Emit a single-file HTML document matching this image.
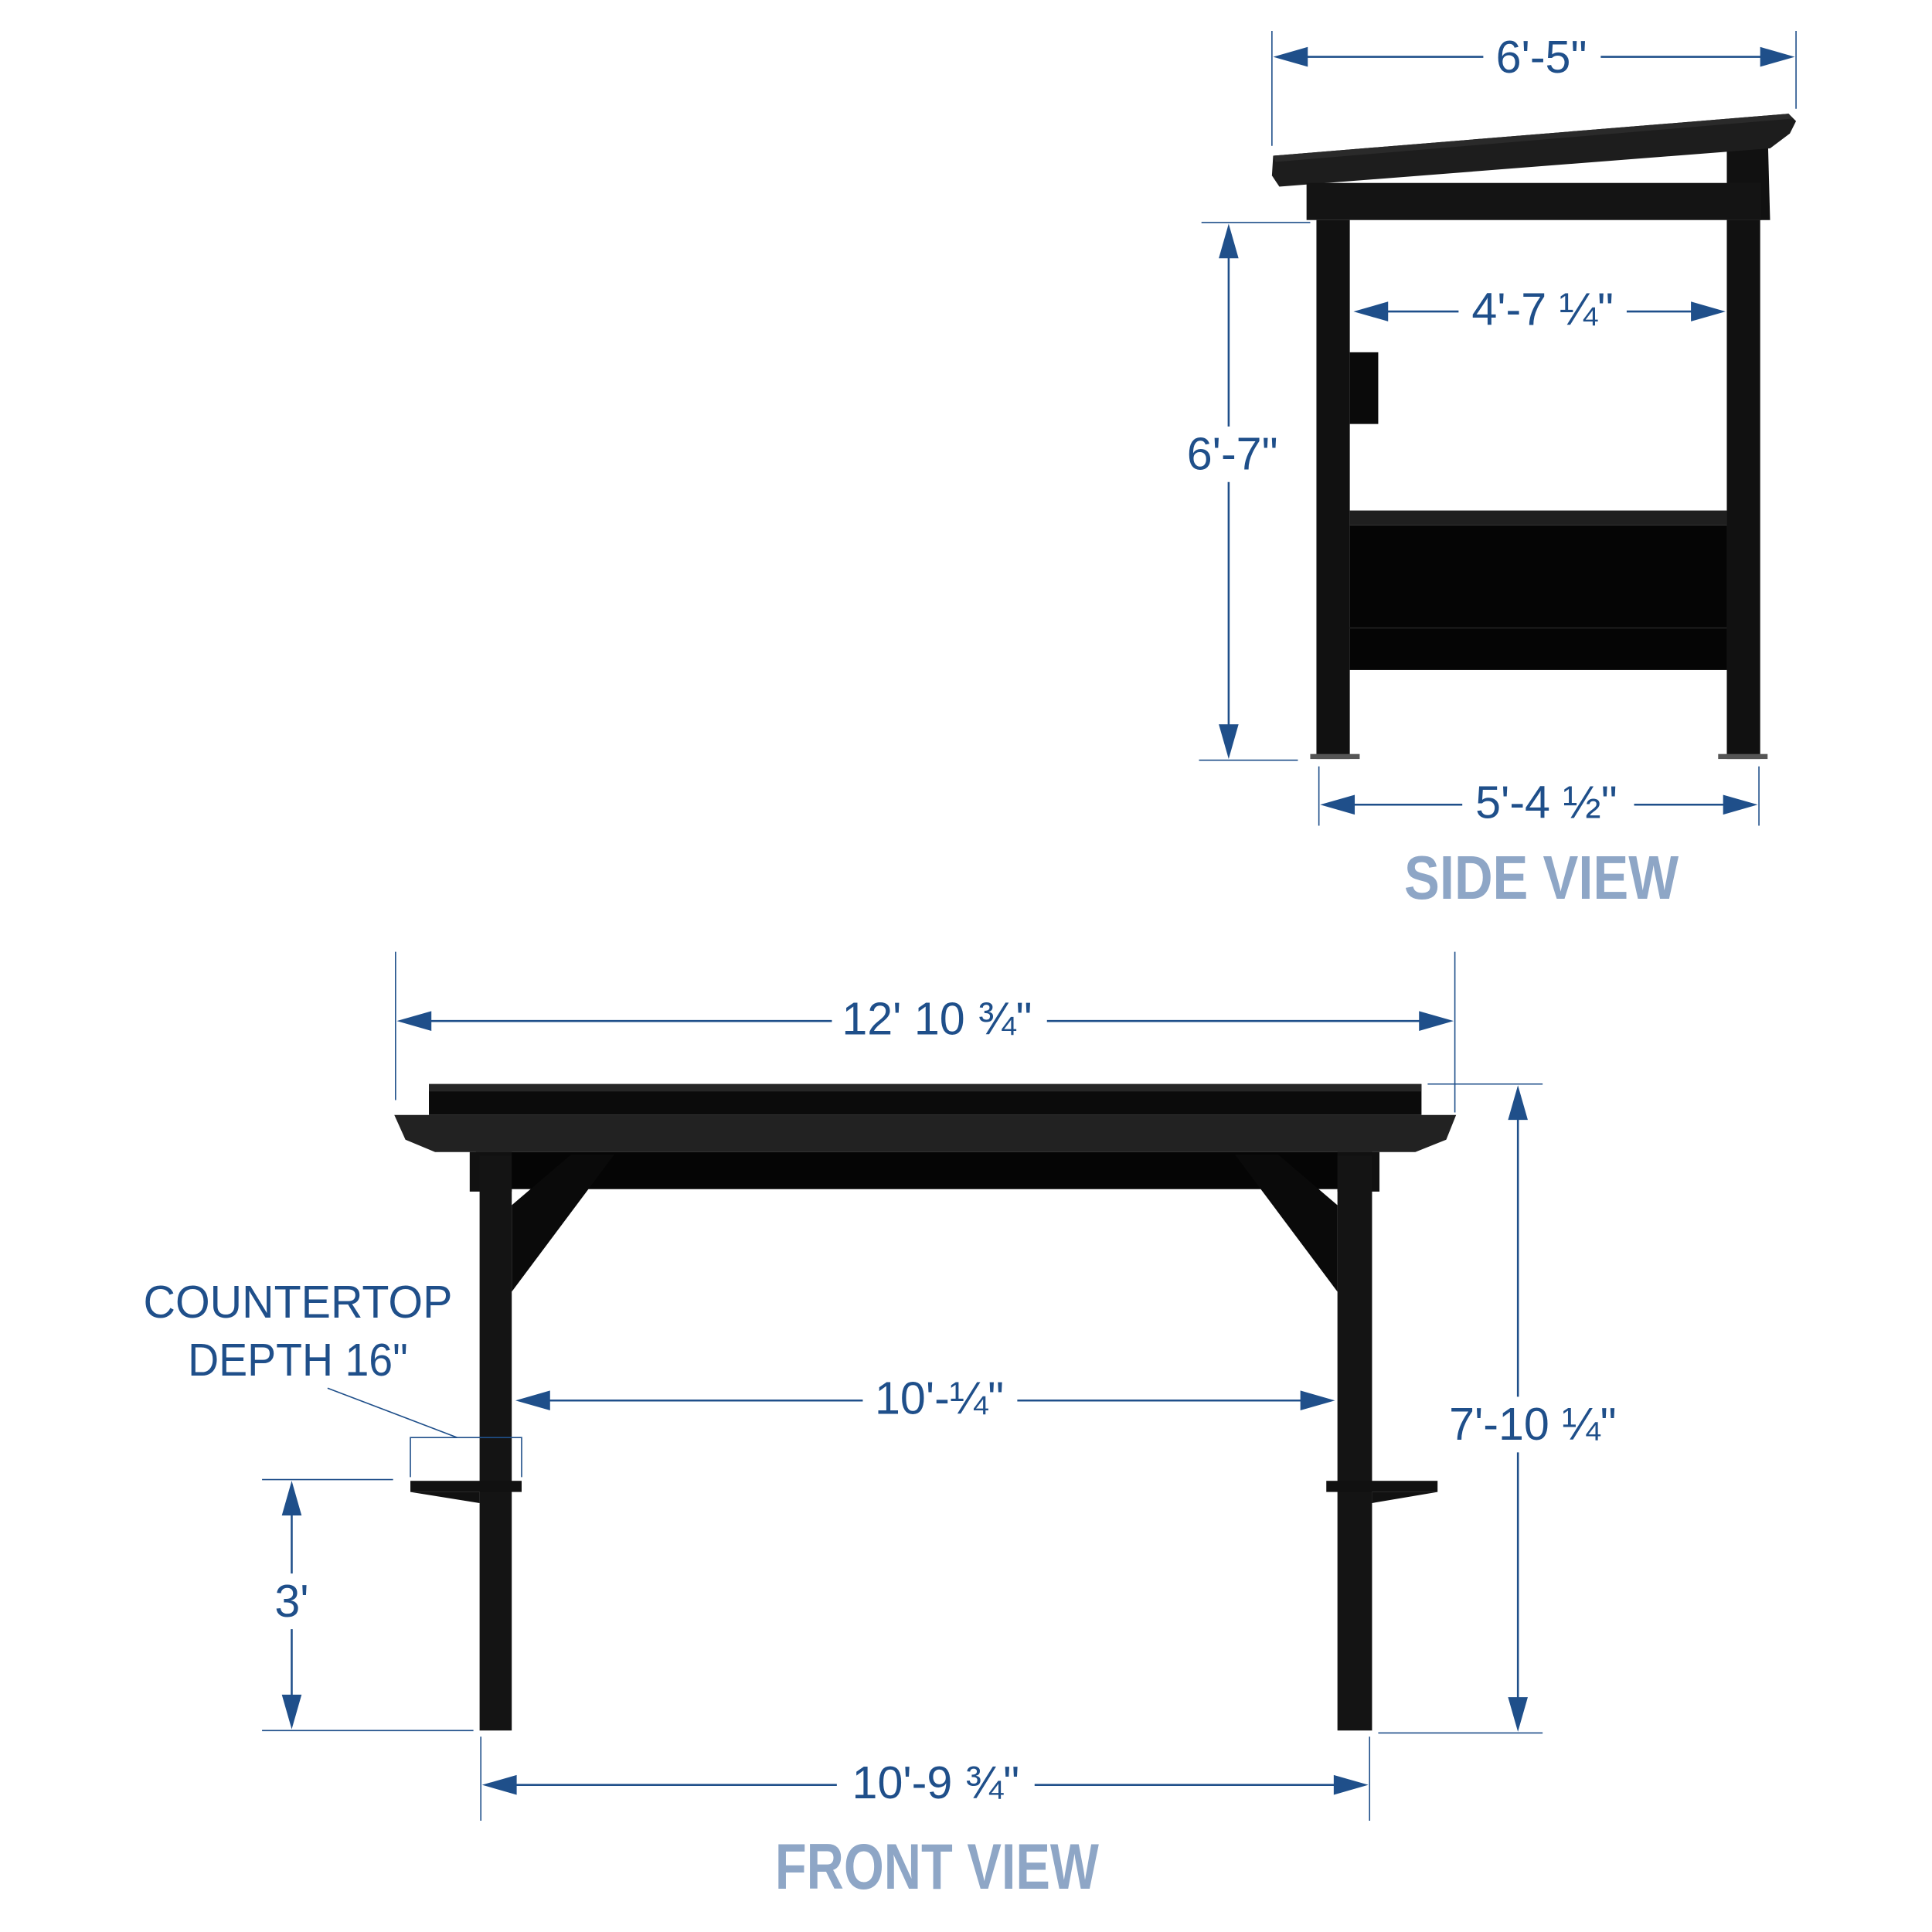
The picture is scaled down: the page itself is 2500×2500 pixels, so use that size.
<!DOCTYPE html>
<html><head><meta charset="utf-8"><style>
html,body{margin:0;padding:0;background:#fff}
svg{display:block}
.d{font-family:"Liberation Sans Narrow","Liberation Sans",sans-serif;fill:#1f4f8a;font-size:37px;text-anchor:middle;dominant-baseline:central}
.t{font-family:"Liberation Sans Narrow","Liberation Sans",sans-serif;fill:#8ea6c6;font-weight:bold;text-anchor:middle}
.l{stroke:#1f4f8a;stroke-width:1.6;fill:none}
.e{stroke:#1f4f8a;stroke-width:1;fill:none}
.a{fill:#1f4f8a}
</style></head><body>
<svg width="2500" height="2500" viewBox="0 0 1563 1563" xmlns="http://www.w3.org/2000/svg">
<polygon points="1397,108 1430,104 1432,178 1397,178" fill="#111"/>
<polygon points="1030,126 1447,92 1453,98 1448,108 1432,120 1035,151 1029,142" fill="#1d1d1d"/>
<polygon points="1030,126 1447,92 1450,96 1032,131" fill="#2a2a2a"/>
<rect x="1057" y="148" width="368" height="30" fill="#141414"/>
<rect x="1065" y="178" width="27" height="436" fill="#111"/>
<rect x="1397" y="178" width="27" height="436" fill="#111"/>
<rect x="1092" y="413" width="305" height="12" fill="#1f1f1f"/>
<rect x="1092" y="425" width="305" height="117" fill="#050505"/>
<line x1="1092" y1="508" x2="1397" y2="508" stroke="#222" stroke-width="1"/>
<rect x="1092" y="285" width="23" height="58" fill="#0a0a0a"/>
<rect x="1060" y="610" width="40" height="4" fill="#555"/>
<rect x="1390" y="610" width="40" height="4" fill="#555"/>
<line class="e" x1="1029" y1="25" x2="1029" y2="118"/>
<line class="e" x1="1453" y1="25" x2="1453" y2="88"/>
<line class="l" x1="1050" y1="46" x2="1200" y2="46"/><line class="l" x1="1295" y1="46" x2="1432" y2="46"/>
<polygon class="a" points="1030,46 1058,38 1058,54"/><polygon class="a" points="1452,46 1424,38 1424,54"/>
<text class="d" x="1247" y="46">6'-5"</text>
<line class="l" x1="1115" y1="252" x2="1180" y2="252"/><line class="l" x1="1316" y1="252" x2="1375" y2="252"/>
<polygon class="a" points="1095,252 1123,244 1123,260"/><polygon class="a" points="1396,252 1368,244 1368,260"/>
<text class="d" x="1248" y="250">4'-7 ¼"</text>
<line class="e" x1="972" y1="180" x2="1060" y2="180"/>
<line class="e" x1="970" y1="615" x2="1050" y2="615"/>
<line class="l" x1="994" y1="200" x2="994" y2="345"/><line class="l" x1="994" y1="390" x2="994" y2="595"/>
<polygon class="a" points="994,181 986,209 1002,209"/><polygon class="a" points="994,614 986,586 1002,586"/>
<text class="d" x="997" y="367">6'-7"</text>
<line class="e" x1="1067" y1="620" x2="1067" y2="668"/>
<line class="e" x1="1423" y1="620" x2="1423" y2="668"/>
<line class="l" x1="1087" y1="651" x2="1183" y2="651"/><line class="l" x1="1322" y1="651" x2="1403" y2="651"/>
<polygon class="a" points="1068,651 1096,643 1096,659"/><polygon class="a" points="1422,651 1394,643 1394,659"/>
<text class="d" x="1251" y="649">5'-4 ½"</text>
<text class="t" x="1247" y="727" font-size="50" textLength="222" lengthAdjust="spacingAndGlyphs">SIDE VIEW</text>

<rect x="347" y="877" width="803" height="25" fill="#0b0b0b"/>
<rect x="347" y="877" width="803" height="6" fill="#262626"/>
<polygon points="319,902 1178,902 1170,922 1145,932 352,932 328,922" fill="#222"/>
<rect x="385" y="932" width="725" height="30" fill="#050505"/>
<rect x="380" y="932" width="34" height="32" fill="#111"/>
<rect x="1082" y="932" width="34" height="32" fill="#111"/>
<rect x="388" y="935" width="26" height="465" fill="#141414"/>
<rect x="1082" y="935" width="28" height="465" fill="#141414"/>
<polygon points="414,975 462,934 497,934 414,1045" fill="#0a0a0a"/>
<polygon points="1082,975 1034,934 999,934 1082,1045" fill="#0a0a0a"/>
<rect x="332" y="1198" width="90" height="9" fill="#111"/>
<polygon points="332,1207 388,1207 388,1216" fill="#111"/>
<rect x="1073" y="1198" width="90" height="9" fill="#111"/>
<polygon points="1163,1207 1110,1207 1110,1216" fill="#111"/>
<line class="e" x1="320" y1="770" x2="320" y2="890"/>
<line class="e" x1="1177" y1="770" x2="1177" y2="900"/>
<line class="l" x1="340" y1="826" x2="673" y2="826"/><line class="l" x1="847" y1="826" x2="1157" y2="826"/>
<polygon class="a" points="321,826 349,818 349,834"/><polygon class="a" points="1176,826 1148,818 1148,834"/>
<text class="d" x="758" y="824">12' 10 ¾"</text>
<line class="e" x1="1155" y1="877" x2="1248" y2="877"/>
<line class="e" x1="1115" y1="1402" x2="1248" y2="1402"/>
<line class="l" x1="1228" y1="897" x2="1228" y2="1130"/><line class="l" x1="1228" y1="1175" x2="1228" y2="1382"/>
<polygon class="a" points="1228,878 1220,906 1236,906"/><polygon class="a" points="1228,1401 1220,1373 1236,1373"/>
<text class="d" x="1240" y="1152">7'-10 ¼"</text>
<line class="l" x1="437" y1="1133" x2="698" y2="1133"/><line class="l" x1="823" y1="1133" x2="1060" y2="1133"/>
<polygon class="a" points="417,1133 445,1125 445,1141"/><polygon class="a" points="1080,1133 1052,1125 1052,1141"/>
<text class="d" x="760" y="1131">10'-¼"</text>
<line class="e" x1="212" y1="1197" x2="318" y2="1197"/>
<line class="e" x1="212" y1="1400" x2="383" y2="1400"/>
<line class="l" x1="236" y1="1217" x2="236" y2="1273"/><line class="l" x1="236" y1="1318" x2="236" y2="1380"/>
<polygon class="a" points="236,1198 228,1226 244,1226"/><polygon class="a" points="236,1399 228,1371 244,1371"/>
<text class="d" x="236" y="1295">3'</text>
<line class="e" x1="389" y1="1405" x2="389" y2="1473"/>
<line class="e" x1="1108" y1="1405" x2="1108" y2="1473"/>
<line class="l" x1="410" y1="1444" x2="677" y2="1444"/><line class="l" x1="837" y1="1444" x2="1088" y2="1444"/>
<polygon class="a" points="390,1444 418,1436 418,1452"/><polygon class="a" points="1107,1444 1079,1436 1079,1452"/>
<text class="d" x="757" y="1442">10'-9 ¾"</text>
<text class="d" x="241" y="1053" textLength="250" lengthAdjust="spacingAndGlyphs">COUNTERTOP</text>
<text class="d" x="241" y="1100" textLength="178" lengthAdjust="spacingAndGlyphs">DEPTH 16"</text>
<line class="e" x1="265" y1="1123" x2="370" y2="1163"/>
<polyline class="e" points="332,1195 332,1163 422,1163 422,1195"/>
<text class="t" x="758" y="1528" font-size="52" textLength="262" lengthAdjust="spacingAndGlyphs">FRONT VIEW</text>
</svg>
</body></html>
